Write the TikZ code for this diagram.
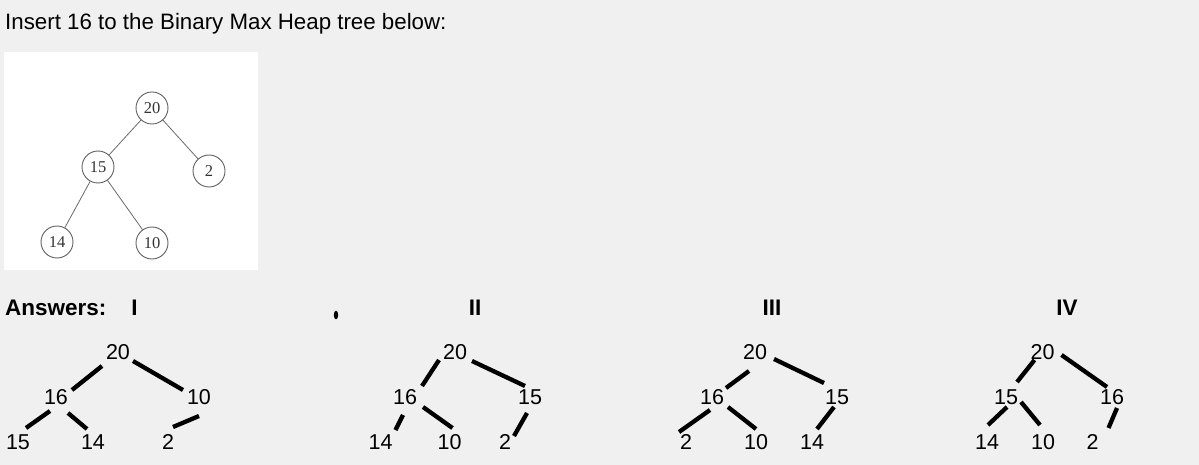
\documentclass[tikz,border=0pt]{standalone}
\usepackage{fontspec}
\setmainfont{Liberation Sans}
\newfontfamily\imgfont{Liberation Serif}
\definecolor{bg}{HTML}{F0F0F0}
\begin{document}
\begin{tikzpicture}[x=1pt,y=-1pt,
  lbl/.style={inner sep=0pt, font=\fontsize{21.5}{25}\selectfont},
  hd/.style={inner sep=0pt, anchor=base, font=\bfseries\fontsize{22.5}{26}\selectfont},
  br/.style={line width=4.3pt},
  circ/.style={circle, draw=black!62, line width=0.9pt, minimum size=32pt, inner sep=0pt, font=\imgfont\fontsize{16.5}{18}\selectfont, text=black!80},
  thinedge/.style={draw=black!58, line width=0.8pt}]
\fill[bg] (0,0) rectangle (1199,465);
\useasboundingbox (0,0) rectangle (1199,465);
\node[inner sep=0pt, anchor=base west, font=\fontsize{22.3}{26}\selectfont] (title) at (5,30) {Insert 16 to the Binary Max Heap tree below:};
% original tree image
\fill[white] (4,52) rectangle (258,270);
\node[circ] (a20) at (152,108) {20};
\node[circ] (a15) at (98,167) {15};
\node[circ] (a2) at (209,171) {2};
\node[circ] (a14) at (57,242) {14};
\node[circ] (a10) at (152,243) {10};
\draw[thinedge] (a20) -- (a15);
\draw[thinedge] (a20) -- (a2);
\draw[thinedge] (a15) -- (a14);
\draw[thinedge] (a15) -- (a10);
% headings
\node[hd, anchor=base west] (ans) at (5,315) {Answers:};
\node[hd] (hI) at (134.5,315) {I};
\node[hd] (hII) at (475,315) {II};
\node[hd] (hIII) at (772,315) {III};
\node[hd] (hIV) at (1067,315) {IV};
\fill (336,315) ellipse [x radius=2.2pt, y radius=4.3pt];
% Tree I
\node[lbl] (i20) at (118,352) {20};
\node[lbl] (i16) at (56,397) {16};
\node[lbl] (i10) at (199,397) {10};
\node[lbl] (i15) at (18,442) {15};
\node[lbl] (i14) at (93,442) {14};
\node[lbl] (i2) at (168,442) {2};
\draw[br] ([shift={(-16,14)}]i20.center) -- ([shift={(16,-7)}]i16.center);
\draw[br] ([shift={(15,9)}]i20.center) -- ([shift={(-16,-7)}]i10.center);
\draw[br] ([shift={(-6,14)}]i16.center) -- ([shift={(8,-14)}]i15.center);
\draw[br] ([shift={(12,16)}]i16.center) -- ([shift={(-6,-13)}]i14.center);
\draw[br] ([shift={(0,19)}]i10.center) -- ([shift={(5,-15)}]i2.center);
% Tree II
\node[lbl] (ii20) at (455,352) {20};
\node[lbl] (ii16) at (405,397) {16};
\node[lbl] (ii15) at (530,397) {15};
\node[lbl] (ii14) at (380.5,442) {14};
\node[lbl] (ii10) at (449.5,442) {10};
\node[lbl] (ii2) at (505,442) {2};
\draw[br] ([shift={(-16,8)}]ii20.center) -- ([shift={(17,-11)}]ii16.center);
\draw[br] ([shift={(17,9)}]ii20.center) -- ([shift={(-5,-11)}]ii15.center);
\draw[br] ([shift={(-2,18)}]ii16.center) -- ([shift={(15,-12)}]ii14.center);
\draw[br] ([shift={(18,10)}]ii16.center) -- ([shift={(3,-14)}]ii10.center);
\draw[br] ([shift={(-3,16)}]ii15.center) -- ([shift={(9,-6)}]ii2.center);
% Tree III
\node[lbl] (iii20) at (755,352) {20};
\node[lbl] (iii16) at (712,397) {16};
\node[lbl] (iii15) at (837,397) {15};
\node[lbl] (iii2) at (686,442) {2};
\node[lbl] (iii10) at (756,442) {10};
\node[lbl] (iii14) at (812,442) {14};
\draw[br] ([shift={(-6,19)}]iii20.center) -- ([shift={(14,-9)}]iii16.center);
\draw[br] ([shift={(19,7)}]iii20.center) -- ([shift={(-13,-14)}]iii15.center);
\draw[br] ([shift={(-2,13)}]iii16.center) -- ([shift={(-7,-10)}]iii2.center);
\draw[br] ([shift={(16,10)}]iii16.center) -- ([shift={(0,-13)}]iii10.center);
\draw[br] ([shift={(-3,10)}]iii15.center) -- ([shift={(5,-13)}]iii14.center);
% Tree IV
\node[lbl] (iv20) at (1042.5,352) {20};
\node[lbl] (iv15) at (1006,397) {15};
\node[lbl] (iv16) at (1112,397) {16};
\node[lbl] (iv14) at (987,442) {14};
\node[lbl] (iv10) at (1043,442) {10};
\node[lbl] (iv2) at (1092.5,442) {2};
\draw[br] ([shift={(-8,8)}]iv20.center) -- ([shift={(11,-15)}]iv15.center);
\draw[br] ([shift={(19,3)}]iv20.center) -- ([shift={(-5,-10)}]iv16.center);
\draw[br] ([shift={(1,10)}]iv15.center) -- ([shift={(1,-17)}]iv14.center);
\draw[br] ([shift={(15,5)}]iv15.center) -- ([shift={(-3,-17)}]iv10.center);
\draw[br] ([shift={(5,11)}]iv16.center) -- ([shift={(16,-14)}]iv2.center);
\end{tikzpicture}
\end{document}
